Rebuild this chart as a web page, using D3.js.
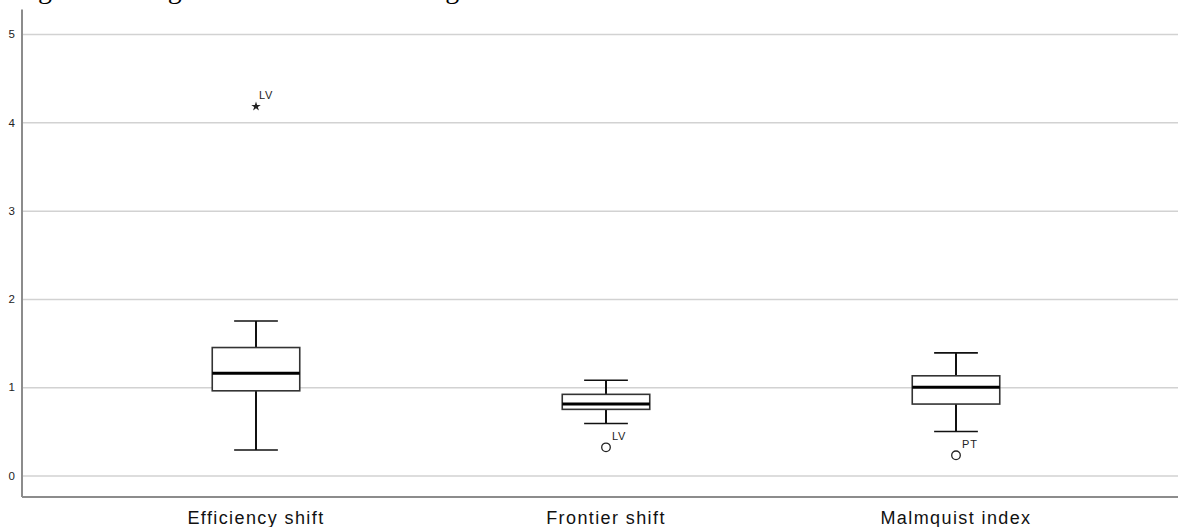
<!DOCTYPE html>
<html>
<head>
<meta charset="utf-8">
<script src="https://cdn.jsdelivr.net/npm/d3@7"></script>
<style>
  html, body { margin: 0; padding: 0; background: #ffffff; }
  svg { display: block; }
</style>
</head>
<body>
<svg id="chart" width="1178" height="527"></svg>
<script>
// ---- data ----
const categories = ["Efficiency shift", "Frontier shift", "Malmquist index"];
const lowerWhisker = [0.29, 0.59, 0.50];
const q1 = [0.96, 0.75, 0.81];
const median = [1.16, 0.81, 1.00];
const q3 = [1.45, 0.92, 1.13];
const upperWhisker = [1.75, 1.08, 1.39];

const outlierCategory = ["Efficiency shift", "Frontier shift", "Malmquist index"];
const outlierValue = [4.18, 0.32, 0.23];
const outlierLabel = ["LV", "LV", "PT"];
const outlierType = ["extreme", "mild", "mild"];

const yTicks = [0, 1, 2, 3, 4, 5];
const caption = "Figure 4. Long-run indices for the 8 regions";

// ---- layout ----
const svg = d3.select("#chart");
const plotLeft = 22, plotRight = 1178, plotTop = 9.5, plotBottom = 497;

const x = d3.scaleBand().domain(categories).range([81, 1131]).padding(0);
const y = d3.scaleLinear().domain([0, 5]).range([475.6, 34]);
const boxW = x.bandwidth() * 0.25;
const capW = boxW * 0.5;

// caption (cut off at the top edge in the reference: only descenders show)
svg.append("text")
  .attr("x", 14.6).attr("y", -1.8)
  .style("font-family", "'Liberation Serif', 'Times New Roman', serif")
  .style("font-size", "28px")
  .attr("fill", "#000")
  .text(caption);

// gridlines + y tick labels
const yAxis = d3.axisLeft(y).tickValues(yTicks).tickFormat(d3.format("d"))
  .tickSize(-(plotRight - plotLeft)).tickPadding(7);
const gy = svg.append("g").attr("transform", `translate(${plotLeft},0)`).call(yAxis);
gy.select(".domain").remove();
gy.selectAll(".tick line").attr("stroke", "#d2d2d2").attr("stroke-width", 1.5);
gy.selectAll(".tick text")
  .style("font-family", "'Liberation Sans', Arial, sans-serif")
  .style("font-size", "11.5px")
  .attr("fill", "#222");

// axis lines
svg.append("line").attr("x1", plotLeft).attr("x2", plotLeft).attr("y1", plotTop).attr("y2", plotBottom)
  .attr("stroke", "#8c8c8c").attr("stroke-width", 2);
svg.append("line").attr("x1", plotLeft).attr("x2", plotRight).attr("y1", plotBottom).attr("y2", plotBottom)
  .attr("stroke", "#8c8c8c").attr("stroke-width", 2);

// x labels
const xAxis = d3.axisBottom(x).tickSize(0).tickPadding(14);
const gx = svg.append("g").attr("transform", `translate(0,${plotBottom})`).call(xAxis);
gx.select(".domain").remove();
gx.selectAll(".tick text")
  .style("font-family", "'Liberation Sans', Arial, sans-serif")
  .style("font-size", "18px")
  .style("letter-spacing", "1.4px")
  .attr("fill", "#111");

// boxes
const boxes = categories.map((c, i) => ({
  c, lo: lowerWhisker[i], q1: q1[i], med: median[i], q3: q3[i], hi: upperWhisker[i]
}));
const g = svg.append("g");
boxes.forEach(b => {
  const cx = x(b.c) + x.bandwidth() / 2;
  g.append("line").attr("x1", cx).attr("x2", cx).attr("y1", y(b.hi)).attr("y2", y(b.q3))
    .attr("stroke", "#111").attr("stroke-width", 2);
  g.append("line").attr("x1", cx).attr("x2", cx).attr("y1", y(b.q1)).attr("y2", y(b.lo))
    .attr("stroke", "#111").attr("stroke-width", 2);
  g.append("line").attr("x1", cx - capW / 2).attr("x2", cx + capW / 2).attr("y1", y(b.hi)).attr("y2", y(b.hi))
    .attr("stroke", "#111").attr("stroke-width", 1.6);
  g.append("line").attr("x1", cx - capW / 2).attr("x2", cx + capW / 2).attr("y1", y(b.lo)).attr("y2", y(b.lo))
    .attr("stroke", "#111").attr("stroke-width", 1.6);
  g.append("rect").attr("x", cx - boxW / 2).attr("y", y(b.q3))
    .attr("width", boxW).attr("height", y(b.q1) - y(b.q3))
    .attr("fill", "#fff").attr("stroke", "#333").attr("stroke-width", 1.6);
  g.append("line").attr("x1", cx - boxW / 2).attr("x2", cx + boxW / 2).attr("y1", y(b.med)).attr("y2", y(b.med))
    .attr("stroke", "#000").attr("stroke-width", 3);
});

// outliers
outlierValue.forEach((v, i) => {
  const cx = x(outlierCategory[i]) + x.bandwidth() / 2;
  const cy = y(v);
  if (outlierType[i] === "extreme") {
    g.append("path").attr("d", d3.symbol(d3.symbolStar, 28)())
      .attr("transform", `translate(${cx},${cy})`).attr("fill", "#222");
    g.append("text").attr("x", cx + 3).attr("y", cy - 7)
      .style("font-family", "'Liberation Sans', Arial, sans-serif")
      .style("font-size", "11px").style("letter-spacing", "0.8px")
      .attr("fill", "#222").text(outlierLabel[i]);
  } else {
    g.append("circle").attr("cx", cx).attr("cy", cy).attr("r", 4.3)
      .attr("fill", "none").attr("stroke", "#222").attr("stroke-width", 1.3);
    g.append("text").attr("x", cx + 6).attr("y", cy - 7)
      .style("font-family", "'Liberation Sans', Arial, sans-serif")
      .style("font-size", "11px").style("letter-spacing", "0.8px")
      .attr("fill", "#222").text(outlierLabel[i]);
  }
});
</script>
</body>
</html>
